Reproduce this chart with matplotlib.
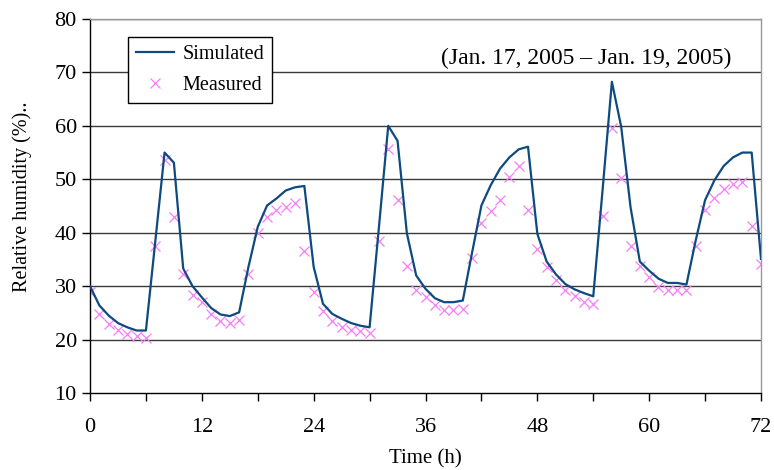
import matplotlib
matplotlib.use('Agg')
import matplotlib.pyplot as plt
import numpy as np

# 时间（小时）
hours = list(range(0, 73))

# 模拟值
simulated = [30.0, 26.4, 24.5, 23.1, 22.3, 21.7, 21.7, 38.3, 55.0, 53.1,
             33.3, 30.0, 27.9, 25.9, 24.7, 24.4, 25.1, 33.6, 41.1, 45.1,
             46.4, 47.9, 48.5, 48.75, 33.6, 26.7, 24.8, 23.9, 23.1, 22.6,
             22.3, 41.0, 60.0, 57.2, 39.9, 32.0, 29.5, 27.75, 27.0, 27.0,
             27.3, 36.3, 45.1, 48.9, 52.0, 54.1, 55.6, 56.1, 39.8, 34.6,
             32.2, 30.4, 29.4, 28.7, 28.1, 48.0, 68.25, 59.8, 44.8, 34.6,
             32.9, 31.4, 30.6, 30.6, 30.3, 38.6, 46.1, 49.8, 52.5, 54.1,
             55.0, 55.0, 35.1]

# 实测值
measured = [28.9, 24.8, 22.9, 21.7, 21.1, 20.6, 20.25, 37.6, 53.7, 42.9,
            32.2, 28.4, 27.0, 24.8, 23.4, 23.1, 23.7, 32.3, 39.9, 42.9,
            44.2, 44.9, 45.6, 36.6, 28.9, 25.3, 23.4, 22.3, 21.7, 21.6,
            21.2, 38.4, 55.75, 46.2, 33.7, 29.2, 27.9, 26.4, 25.6, 25.6,
            25.75, 35.3, 41.8, 44.1, 46.2, 50.4, 52.5, 44.3, 36.9, 33.6,
            31.1, 29.2, 28.1, 27.0, 26.6, 43.1, 59.6, 50.25, 37.6, 33.7,
            31.7, 29.9, 29.3, 29.3, 29.3, 37.6, 44.3, 46.5, 48.1, 49.2,
            49.5, 41.2, 34.2]

x_ticks = [0, 12, 24, 36, 48, 60, 72]
y_ticks = [10, 20, 30, 40, 50, 60, 70, 80]

plt.rcParams['font.family'] = ['Liberation Serif', 'DejaVu Serif']

fig = plt.figure(figsize=(7.74, 4.70), dpi=100)
ax = fig.add_axes([0.1163, 0.1638, 0.8669, 0.7958])

# 网格线
for y in y_ticks[1:]:
    ax.axhline(y, color='#3a3a3a', lw=1.0, zorder=1)

ax.plot(hours, simulated, color='#0d4a80', lw=1.6, label='Simulated', zorder=3)
ax.plot(hours, measured, ls='none', marker='x', ms=7, mew=0.9,
        color='#f57ff5', label='Measured', zorder=2)

ax.set_xlim(0, 72)
ax.set_ylim(10, 80)
ax.set_xticks(x_ticks)
ax.set_xticks(range(0, 73, 6), minor=True)
ax.set_yticks(y_ticks)
ax.tick_params(axis='both', which='both', direction='out', length=6,
               width=1, labelsize=16, colors='black')
ax.tick_params(axis='x', pad=12)

for side in ['top', 'right']:
    ax.spines[side].set_color('#999999')
    ax.spines[side].set_linewidth(1.0)
for side in ['left', 'bottom']:
    ax.spines[side].set_color('black')
    ax.spines[side].set_linewidth(1.0)

ax.set_xlabel('Time (h)', fontsize=15, labelpad=9)
ax.set_ylabel('Relative humidity (%)..', fontsize=14.5, va='center')
ax.yaxis.set_label_coords(-0.101, 0.524)

ax.text(53.2, 72.7, '(Jan. 17, 2005 – Jan. 19, 2005)', fontsize=17,
        ha='center', va='center')

leg = ax.legend(loc='upper left', bbox_to_anchor=(0.0566, 0.952),
                fontsize=14.5, frameon=True, fancybox=False,
                edgecolor='black', framealpha=1, borderpad=0.4,
                handlelength=1.9, labelspacing=0.6, handletextpad=0.4,
                borderaxespad=0)
leg.get_frame().set_linewidth(1.0)

fig.savefig('out.png', dpi=100)
